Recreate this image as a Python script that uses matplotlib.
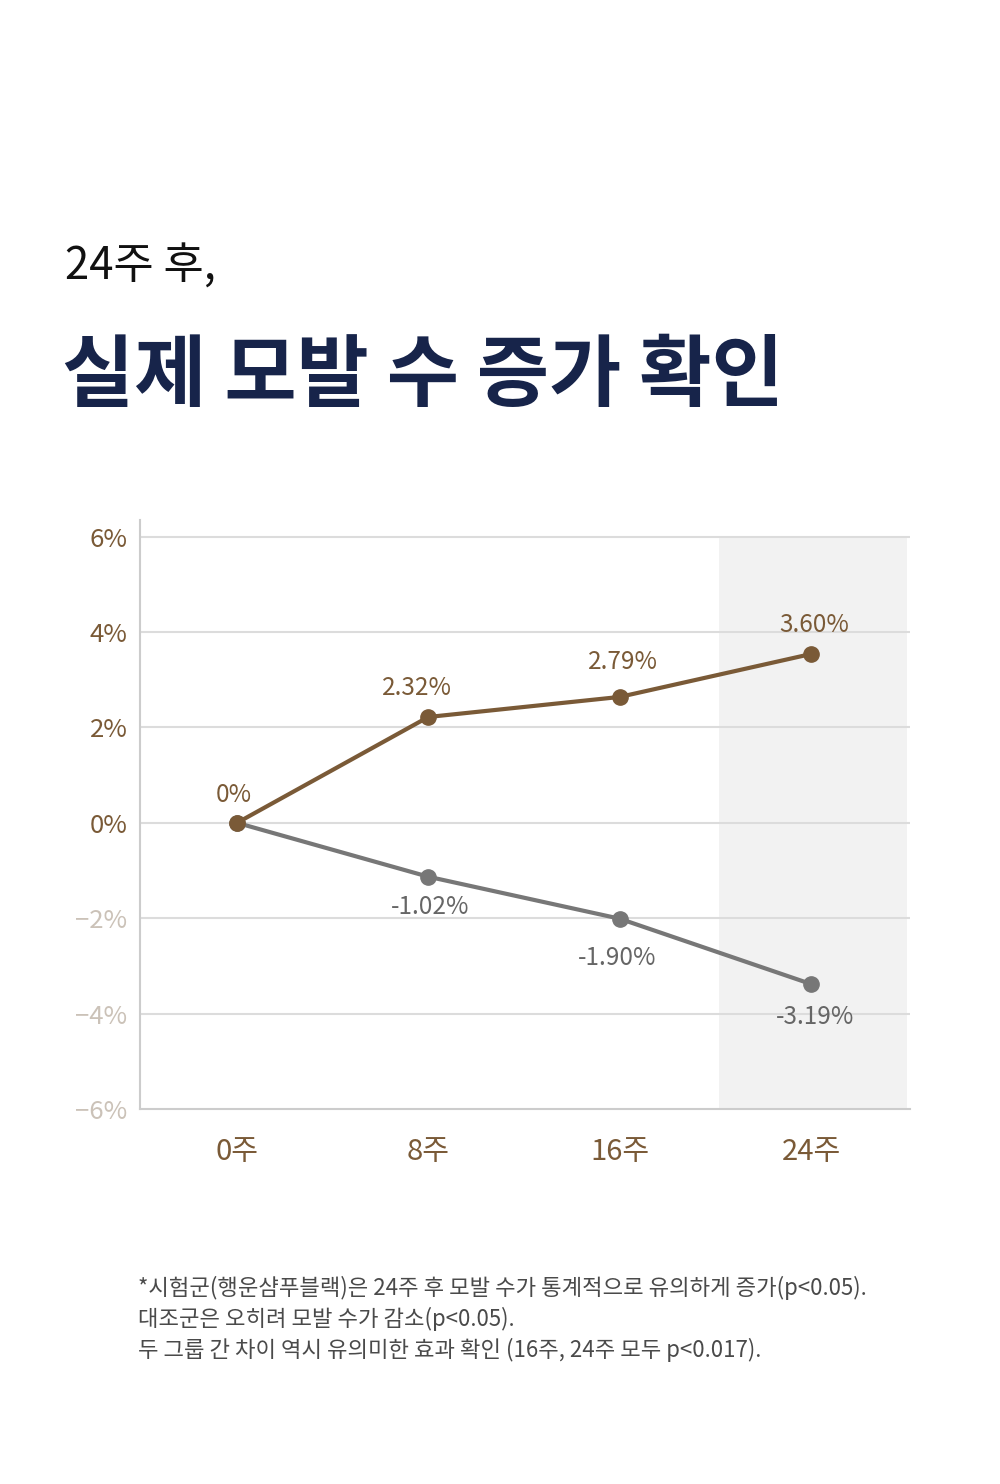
import matplotlib
matplotlib.use("Agg")
import matplotlib.pyplot as plt
from matplotlib.patches import Rectangle

plt.rcParams['font.family'] = ['Noto Sans CJK KR', 'DejaVu Sans']

# data
weeks = ["0주", "8주", "16주", "24주"]
test_vals = [0, 2.22, 2.64, 3.54]        # 시험군 (plotted positions)
test_labels = ["0%", "2.32%", "2.79%", "3.60%"]
ctrl_vals = [0, -1.13, -2.01, -3.38]     # 대조군
ctrl_labels = ["", "-1.02%", "-1.90%", "-3.19%"]
yticks = [6, 4, 2, 0, -2, -4, -6]
ytick_labels = ["6%", "4%", "2%", "0%", "\u22122%", "\u22124%", "\u22126%"]
notes = [
    "*시험군(행운샴푸블랙)은 24주 후 모발 수가 통계적으로 유의하게 증가(p<0.05).",
    "대조군은 오히려 모발 수가 감소(p<0.05).",
    "두 그룹 간 차이 역시 유의미한 효과 확인 (16주, 24주 모두 p<0.017).",
]

brown = "#7a5a37"
gray = "#777777"
pale = "#cbc2b8"

W, H = 1000, 1484
fig = plt.figure(figsize=(W / 100, H / 100), dpi=100)

def fy(py):
    return 1 - py / H

# headings
fig.text(65 / W, fy(267), "24주 후,", fontsize=31.5, color="#111111",
         va="center", ha="left")
fig.text(62 / W, fy(377), "실제 모발 수 증가 확인", fontsize=56.5, color="#17244a",
         va="center", ha="left", fontweight="bold")

# chart
ax = fig.add_axes([140 / W, fy(1109), 770 / W, (1109 - 520) / H])
x = list(range(len(weeks)))
ax.set_xlim(-0.507, 3.517)
ax.set_ylim(-6, 6.35)

ax.add_patch(Rectangle((2.52, -6), 0.98, 12, facecolor="#f2f2f2",
                       edgecolor="none", zorder=0))
for t in yticks[:-1]:
    ax.axhline(t, color="#dcdcdc", lw=1.5, zorder=1)

ax.plot(x, ctrl_vals, color=gray, lw=3, marker="o", ms=11, zorder=3)
ax.plot(x, test_vals, color=brown, lw=3, marker="o", ms=11, zorder=4)

test_off = [(-2, 20), (-8, 21), (2, 25), (2, 21)]
ctrl_off = [(0, 0), (1, -22), (-2, -28), (3, -24)]
for i in x:
    ax.annotate(test_labels[i], (i, test_vals[i]), xytext=test_off[i],
                textcoords="offset points", ha="center", va="center",
                fontsize=17.5, color=brown)
    if ctrl_labels[i]:
        ax.annotate(ctrl_labels[i], (i, ctrl_vals[i]), xytext=ctrl_off[i],
                    textcoords="offset points", ha="center", va="center",
                    fontsize=17.5, color="#666666")

for s in ["top", "right"]:
    ax.spines[s].set_visible(False)
for s in ["left", "bottom"]:
    ax.spines[s].set_color("#cccccc")
    ax.spines[s].set_linewidth(1.5)

ax.set_yticks(yticks)
ax.set_yticklabels(ytick_labels, fontsize=18.5)
for lab, t in zip(ax.get_yticklabels(), yticks):
    lab.set_color(brown if t >= 0 else pale)
ax.set_xticks(x)
ax.set_xticklabels(weeks, fontsize=21, color=brown)
ax.tick_params(axis="y", length=0, pad=9)
ax.tick_params(axis="x", length=0, pad=20)

# footnote
for k, line in enumerate(notes):
    fig.text(138 / W, fy(1288 + 31 * k), line, fontsize=16, color="#4a4a4a",
             va="center", ha="left")

fig.savefig("out.png", dpi=100)
